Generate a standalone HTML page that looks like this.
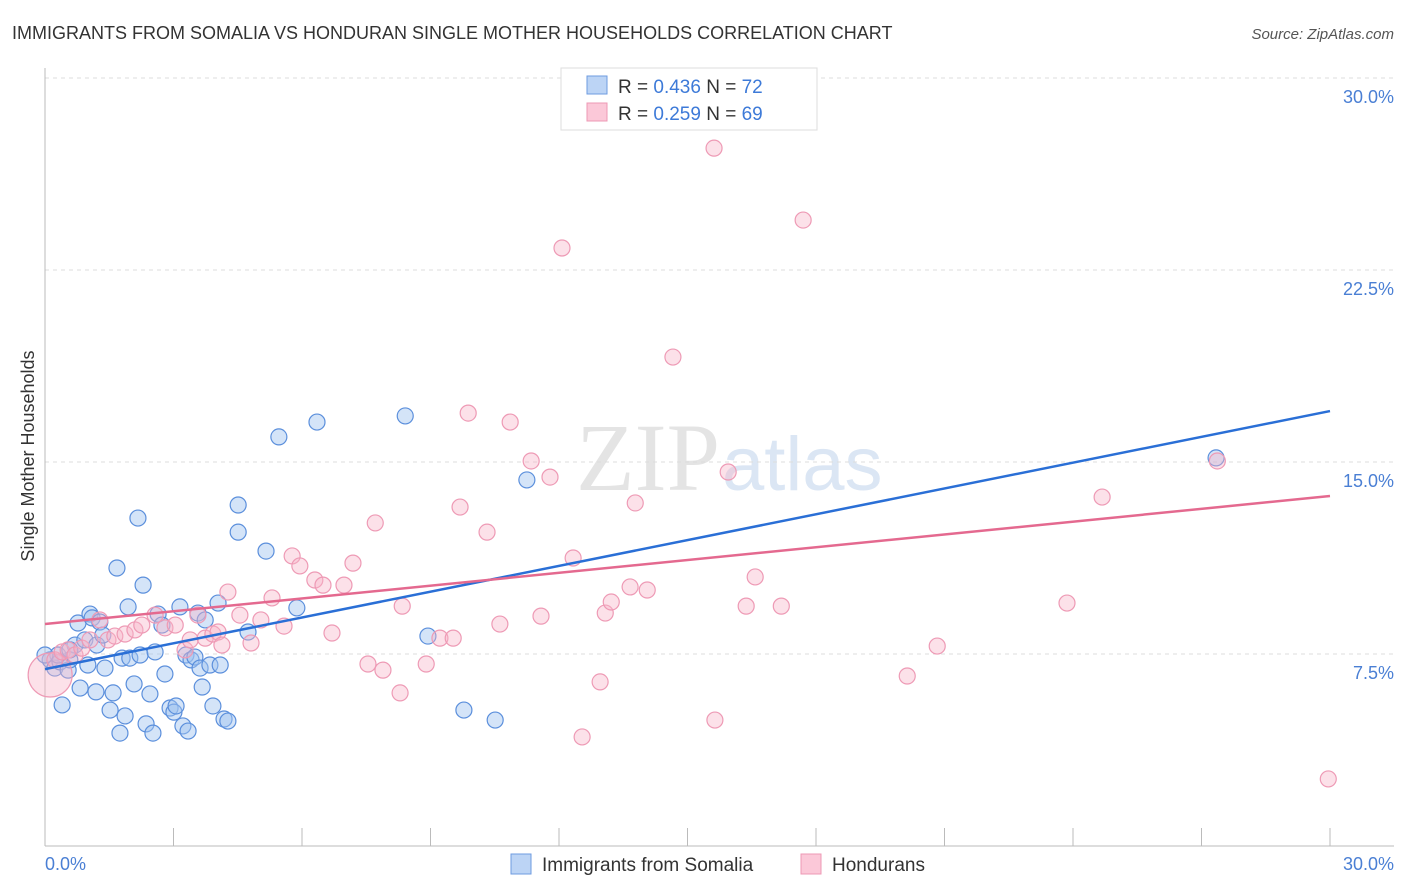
<!DOCTYPE html>
<html><head><meta charset="utf-8"><style>
body{margin:0;background:#fff;font-family:"Liberation Sans",sans-serif}
#c{position:absolute;left:0;top:0}
</style></head><body>
<svg id="c" width="1406" height="892" xmlns="http://www.w3.org/2000/svg">
<text x="12" y="39" font-size="18" fill="#333">IMMIGRANTS FROM SOMALIA VS HONDURAN SINGLE MOTHER HOUSEHOLDS CORRELATION CHART</text>
<text x="1394" y="39" font-size="15" fill="#555" font-style="italic" text-anchor="end">Source: ZipAtlas.com</text>
<text x="720" y="490" font-size="96" fill="#e4e4e4" text-anchor="end" font-family="Liberation Serif">ZIP</text>
<text x="722" y="490" font-size="76" fill="#dbe6f4">atlas</text>
<g id="grid"></g><g id="axes"></g><g id="pts"></g><g id="lines"></g>
<text transform="translate(34,456) rotate(-90)" font-size="18" fill="#333" text-anchor="middle">Single Mother Households</text>
<text x="45" y="870" font-size="18" fill="#4a7fd4">0.0%</text>
<text x="1394" y="870" font-size="18" fill="#4a7fd4" text-anchor="end">30.0%</text>
<g>
<rect x="561" y="68" width="256" height="62" fill="#fff" stroke="#ddd"/>
<rect x="587" y="76" width="20" height="18" fill="#bcd4f5" stroke="#6e9be0"/>
<rect x="587" y="103" width="20" height="18" fill="#fbc8d8" stroke="#ee98b4"/>
<text x="618" y="93" font-size="19" fill="#333">R = <tspan fill="#3d7ad8">0.436</tspan>   N = <tspan fill="#3d7ad8">72</tspan></text>
<text x="618" y="120" font-size="19" fill="#333">R = <tspan fill="#3d7ad8">0.259</tspan>   N = <tspan fill="#3d7ad8">69</tspan></text>
</g>
<g>
<rect x="511" y="854" width="20" height="20" fill="#bcd4f5" stroke="#6e9be0"/>
<text x="542" y="871" font-size="19" fill="#333">Immigrants from Somalia</text>
<rect x="801" y="854" width="20" height="20" fill="#fbc8d8" stroke="#ee98b4"/>
<text x="832" y="871" font-size="19" fill="#333">Hondurans</text>
</g>
</svg>
<script>
const yTicks=[7.5,15,22.5,30];
const yTickLabels=["7.5%","15.0%","22.5%","30.0%"];
const xTicks=[0,3,6,9,12,15,18,21,24,27,30];
const somaliaX=[0.12,0.23,0.35,0.40,0.54,0.58,0.70,0.77,0.82,0.93,1.00,1.05,1.10,1.19,1.21,1.28,1.35,1.40,1.52,1.59,1.68,1.75,1.80,1.87,1.94,1.98,2.08,2.17,2.22,2.29,2.36,2.45,2.52,2.57,2.64,2.73,2.80,2.92,3.01,3.06,3.15,3.22,3.29,3.34,3.41,3.50,3.57,3.62,3.67,3.74,3.85,3.92,4.04,4.09,4.18,4.27,4.51,4.51,4.74,5.16,5.46,5.88,6.35,8.41,8.94,9.78,10.51,11.25,27.34,0.30,0.0,0.58];
const somaliaY=[7.27,6.95,7.19,5.51,6.87,7.27,7.85,8.71,6.17,8.05,7.07,9.06,8.91,6.02,7.85,8.75,8.24,6.95,5.31,5.98,10.86,4.41,7.34,5.08,9.34,7.34,6.33,12.81,7.46,10.19,4.77,5.94,4.41,7.58,9.06,8.63,6.72,5.39,5.23,5.47,9.34,4.69,7.46,4.49,7.27,7.38,9.10,6.95,6.21,8.83,7.07,5.47,9.49,7.07,4.96,4.88,13.32,12.26,8.36,11.52,15.98,9.30,16.56,16.80,8.20,5.31,4.92,14.30,15.16,7.46,7.46,7.66];
const honduranX=[0.12,0.23,0.40,0.54,0.70,0.86,1.05,1.28,1.47,1.63,1.87,2.10,2.26,2.57,2.80,3.04,3.27,3.39,3.57,3.74,3.92,4.04,4.13,4.27,4.55,4.81,5.04,5.30,5.58,5.77,5.95,6.30,6.49,6.70,6.98,7.19,7.54,7.71,7.89,8.29,8.34,8.90,9.22,9.53,9.69,9.88,10.32,10.62,10.86,11.35,11.58,11.79,12.07,12.33,12.54,12.96,13.08,13.22,13.66,13.78,14.06,14.66,15.62,15.64,15.95,16.37,16.58,17.19,17.70,20.13,20.83,23.86,24.68,27.37,29.96];
const honduranY=[6.68,7.27,7.58,7.66,7.46,7.73,8.05,8.83,8.05,8.20,8.28,8.44,8.63,9.02,8.52,8.63,7.66,8.05,9.02,8.12,8.28,8.36,7.85,9.92,9.02,7.93,8.83,9.69,8.59,11.33,10.94,10.39,10.19,8.32,10.19,11.05,7.11,12.62,6.87,5.98,9.37,7.11,8.12,8.12,13.24,16.91,12.26,8.67,16.56,15.04,8.98,14.41,23.36,11.25,4.26,6.41,9.10,9.53,10.12,13.40,10.00,19.10,27.26,4.92,14.61,9.37,10.51,9.37,24.45,6.64,7.81,9.49,13.63,15.04,2.62];
const somaliaTrend=[6.91,16.99];
const honduranTrend=[8.67,13.67];
const NS="http://www.w3.org/2000/svg";
const X=v=>45+v/30*1285, Y=v=>846-v/7.5*192;
function mk(t,a,p){const e=document.createElementNS(NS,t);for(const k in a)e.setAttribute(k,a[k]);p.appendChild(e);return e;}
const g=document.getElementById('grid'),ax=document.getElementById('axes'),pts=document.getElementById('pts'),ln=document.getElementById('lines');
yTicks.forEach((t,i)=>{const l=mk('line',{x1:45,x2:1394,y1:Y(t),y2:Y(t),stroke:'#ddd','stroke-dasharray':'4,4'},g);


const tx=mk('text',{x:1394,y:Y(t)+25,'font-size':18,fill:'#4a7fd4','text-anchor':'end'},g);tx.textContent=yTickLabels[i];

});
const ya=mk('line',{x1:45,x2:45,y1:68,y2:846,stroke:'#bbb'},ax);


const xa=mk('line',{x1:45,x2:1394,y1:846,y2:846,stroke:'#bbb'},ax);


xTicks.forEach(t=>{const l=mk('line',{x1:X(t),x2:X(t),y1:828,y2:846,stroke:'#bbb'},ax);

});
somaliaX.forEach((v,i)=>{const c=mk('circle',{cx:X(v),cy:Y(somaliaY[i]),r:8,fill:'rgba(160,196,240,0.45)',stroke:'#5b8fdc','stroke-width':1.2},pts);

});
honduranX.forEach((v,i)=>{const c=mk('circle',{cx:X(v),cy:Y(honduranY[i]),r:i==0?22:8,fill:'rgba(248,180,200,0.4)',stroke:'#ee9ab5','stroke-width':1.2},pts);

});
const bl=mk('line',{x1:X(0),x2:X(30),y1:Y(somaliaTrend[0]),y2:Y(somaliaTrend[1]),stroke:'#2a6fd6','stroke-width':2.5},ln);


const pl=mk('line',{x1:X(0),x2:X(30),y1:Y(honduranTrend[0]),y2:Y(honduranTrend[1]),stroke:'#e4698f','stroke-width':2.5},ln);


</script>
</body></html>
